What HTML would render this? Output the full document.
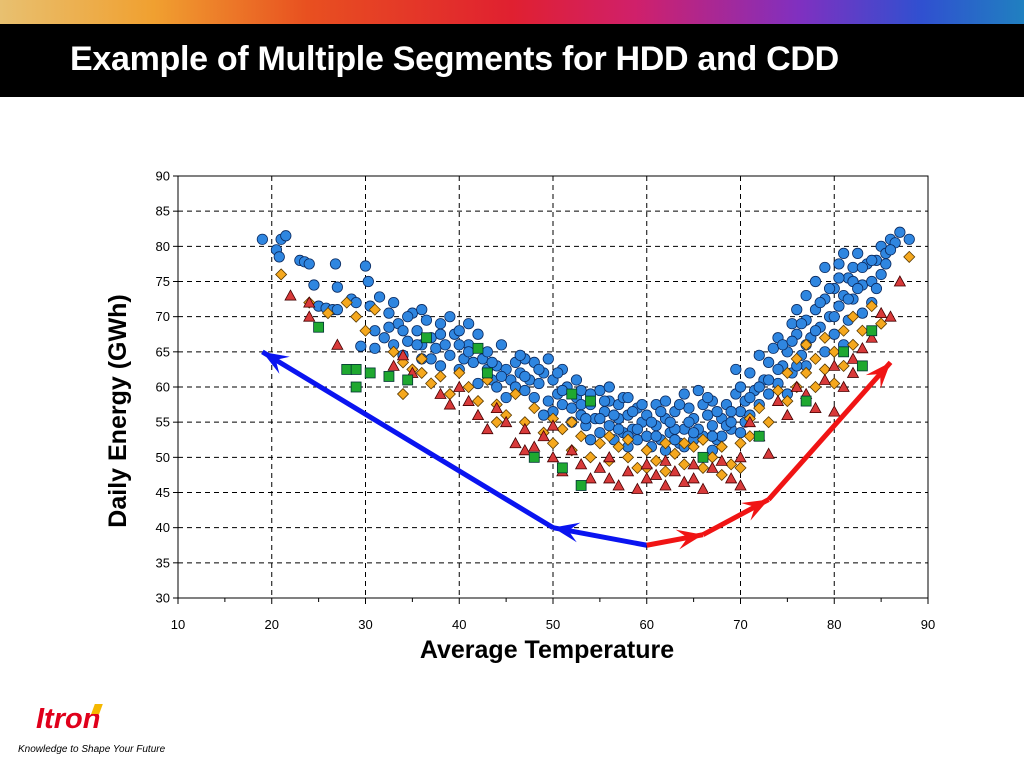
<!DOCTYPE html>
<html><head><meta charset="utf-8">
<style>
body{margin:0;width:1024px;height:768px;overflow:hidden;background:#fff;font-family:"Liberation Sans",sans-serif;position:relative}
#band{position:absolute;left:0;top:0;width:1024px;height:24px;background:linear-gradient(90deg,#e8c070 0%,#f0a030 15%,#e85020 30%,#e02030 50%,#d0206a 62%,#8030c0 78%,#3050d0 90%,#2080c0 100%)}
#head{position:absolute;left:0;top:24px;width:1024px;height:73px;background:#000}
#title{position:absolute;left:70px;top:40px;color:#fff;font-weight:bold;font-size:34px;letter-spacing:-0.3px}
#logo{position:absolute;left:36px;top:703px;color:#e0001b;font-weight:bold;font-style:italic;font-size:29px}
#tick{position:absolute;left:93px;top:704px;width:8px;height:10px;background:#f5b800;transform:skewX(-20deg)}
#tag{position:absolute;left:18px;top:744px;font-style:italic;font-size:10px;color:#000}
</style></head><body>
<div id="band"></div>
<div id="head"></div>
<div id="title">Example of Multiple Segments for HDD and CDD</div>
<div id="logo">Itron</div>
<div id="tick"></div>
<div id="tag">Knowledge to Shape Your Future</div>
<svg id="chart" width="1024" height="768" style="position:absolute;left:0;top:0"></svg>
<script>
const xTicks=[10,20,30,40,50,60,70,80,90];
const yTicks=[30,35,40,45,50,55,60,65,70,75,80,85,90];
const blue=[[19,81],[20.5,79.5],[21,81],[21.5,81.5],[20.8,78.5],[23,78],[23.5,77.8],[24,77.5],[24.5,74.5],[25,71.5],[25.8,71.2],[26.5,71],[26.8,77.5],[27,74.2],[28.5,72.5],[29.5,65.8],[30,77.2],[30.3,75],[30.5,71.5],[31,68],[31.5,72.8],[32,67],[32.5,70.5],[33,72],[33.5,69],[34,68],[34.5,66.5],[35,70.5],[35.5,68],[36,66],[36.5,69.5],[37,67],[37.5,65.5],[38,69],[38.5,66],[39,64.5],[39.5,67.5],[40,68],[40.5,64],[41,66],[41.5,63.5],[42,67.5],[42.5,64],[43,65],[43,62.5],[43.5,61],[44,63],[44.5,66],[45,62.5],[45.5,61],[46,63.5],[46,60],[46.5,62],[47,59.5],[47.5,61],[48,63.5],[48,58.5],[48.5,60.5],[49,62],[49.5,64],[49.5,58],[50,61],[50,56.5],[50.5,59],[51,57.5],[51.5,60],[52,55],[52,57],[52.5,58.5],[53,56],[53.5,54.5],[54,57.5],[54.5,55.5],[55,53.5],[55,59.5],[55.5,56.5],[56,54.5],[56,58],[56.5,52.5],[57,55.5],[57.5,53.5],[58,56],[58,51.5],[58.5,54],[59,52.5],[59.5,55],[60,53],[60,56],[60.5,51.5],[61,54.5],[61.5,52.5],[62,55.5],[62,51],[62.5,53.5],[63,56.5],[63.5,52],[64,54],[64.5,57],[65,52.5],[65,55.5],[65.5,59.5],[66,53],[66.5,56],[67,54.5],[67,58],[67.5,52.5],[68,55.5],[68.5,57.5],[69,54],[69.5,59],[69.5,62.5],[70,56.5],[70,60],[70.5,58],[71,62],[71.5,59.5],[72,57.5],[72,64.5],[72.5,61],[73,63.5],[73.5,65.5],[74,60.5],[74,67],[74.5,63],[75,65],[75.5,69],[75.5,62],[76,67.5],[76,71],[76.5,64.5],[77,69.5],[77,73],[77.5,67],[78,71],[78,75],[78.5,68.5],[79,72.5],[79,77],[79.5,70],[80,74],[80,67.5],[80.5,77.5],[80.5,71.5],[81,73],[81,79],[81.5,75.5],[81.5,69.5],[82,77],[82,72.5],[82.5,79],[83,74.5],[83,70.5],[83.5,77.5],[84,75],[84,72],[84.5,78],[85,76],[85,80],[85.5,79],[86,81],[86.5,80.5],[87,82],[88,81],[44,60],[47,64],[51,62.5],[53,59.5],[57,57.5],[59,57],[61,57.5],[63,54],[66,57.5],[68,53],[71,56],[73,59],[40,62.5],[38,63],[36,64],[34,64.5],[42,60.5],[45,58.5],[49,56],[54,52.5],[58,53],[64,51.5],[67,51],[70,53.5],[75,59],[77,63],[79,65],[81,66],[39,70],[41,69],[33,66],[31,65.5],[29,72],[27,71],
[41,65],[43.5,63.5],[44.5,61.5],[46.5,64.5],[47,61.5],[48.5,62.5],[50.5,62],[51,59.5],[52.5,61],[53,57.5],[54,59],[55.5,58],[56.5,56],[57.5,58.5],[58.5,56.5],[59.5,57.5],[60.5,55],[61.5,56.5],[62.5,55],[63.5,57.5],[64.5,55],[65.5,54],[66.5,58.5],[67.5,56.5],[68.5,54.5],[69,56.5],[70.5,55],[71,58.5],[72,60],[73,61],[74,62.5],[74.5,66],[75.5,66.5],[76,63],[76.5,69],[77,66],[78,68],[78.5,72],[79.5,74],[80,70],[80.5,75.5],[81.5,72.5],[82,75],[82.5,74],[83,77],[84,78],[84.5,74],[85.5,77.5],[86,79.5],[40,66],[38,67.5],[37,64],[35.5,66],[34.5,70],[36,71],[32.5,68.5],[53.5,55.5],[55,55.5],[57,54],[59,54],[61,53],[63,52.5],[65,53.5],[67,53],[69,55],[62,58],[64,59],[58,58.5],[56,60]];
const orange=[[21,76],[24,72],[26,70.5],[28,72],[29,70],[30,68],[31,71],[33,65],[34,63.5],[35,62.5],[36,64],[37,60.5],[38,61.5],[39,59],[40,62],[41,60],[42,58],[43,61],[44,57.5],[45,56],[46,59],[47,55],[48,57],[49,53.5],[50,55.5],[50,52],[51,54],[52,51],[53,53],[54,50],[55,52],[56,49.5],[57,51.5],[58,50],[58,52.5],[59,48.5],[60,51],[61,49.5],[62,52],[62,48],[63,50.5],[64,49],[65,51.5],[66,48.5],[66,52.5],[67,50],[68,51.5],[69,49],[70,52],[71,53],[71,55.5],[72,57],[73,55],[74,59.5],[75,58],[75,62],[76,60],[76,64],[77,62],[77,66],[78,60],[78,64],[79,67],[79,62.5],[80,65],[80,60.5],[81,68],[81,63],[82,66],[82,70],[83,68],[84,71.5],[85,69],[88,78.5],[34,59],[36,62],[44,55],[52,55],[56,53],[60,48.5],[64,52],[68,47.5],[70,48.5]];
const red=[[22,73],[24,72],[24,70],[27,66],[33,63],[34,64.5],[35,62],[38,59],[39,57.5],[40,60],[41,58],[42,56],[43,54],[44,57],[45,55],[46,52],[47,54],[48,51.5],[49,53],[50,50],[50,54.5],[51,48],[52,51],[53,49],[54,47],[55,48.5],[56,50],[56,47],[57,46],[58,48],[59,45.5],[60,49],[60,47],[61,47.5],[62,46],[62,49.5],[63,48],[64,46.5],[65,49],[65,47],[66,45.5],[67,48.5],[68,49.5],[69,47],[70,46],[70,50],[71,55],[72,53],[73,50.5],[74,58],[75,56],[76,60],[77,59],[78,57],[79,61],[80,63],[80,56.5],[81,60],[82,64],[82,62],[83,65.5],[84,67],[85,70.5],[86,70],[87,75],[47,51]];
const green=[[25,68.5],[28,62.5],[29,62.5],[29,60],[30.5,62],[32.5,61.5],[34.5,61],[36.5,67],[42,65.5],[43,62],[48,50],[51,48.5],[52,59],[53,46],[54,58],[66,50],[72,53],[77,58],[81,65],[83,63],[84,68]];
const blueArrow=[[60,37.5],[50,40],[19,65]];
const redArrow=[[60,37.5],[66,39],[73,44],[86,63.5]];

const X0=178,X1=928,Y0=598,Y1=176;
const xs=v=>X0+(v-10)/80*(X1-X0);
const ys=v=>Y0-(v-30)/60*(Y0-Y1);
const svg=document.getElementById('chart');
const NS='http://www.w3.org/2000/svg';
function mk(t,a){const e=document.createElementNS(NS,t);for(const k in a)e.setAttribute(k,a[k]);svg.appendChild(e);return e;}
let e;
e=mk('rect',{x:X0,y:Y1,width:X1-X0,height:Y0-Y1,fill:'#fff',stroke:'#000','stroke-width':1});


xTicks.forEach(t=>{
 if(t>10&&t<90){e=mk('line',{x1:xs(t),x2:xs(t),y1:Y1,y2:Y0,stroke:'#000','stroke-dasharray':'5,4'});
 
 }
 e=mk('text',{x:xs(t),y:Y0+31,'text-anchor':'middle','font-size':13,fill:'#000'});e.textContent=t;
 
 
 mk('line',{x1:xs(t),x2:xs(t),y1:Y0,y2:Y0+6,stroke:'#000'});
 if(t<90)mk('line',{x1:xs(t+5),x2:xs(t+5),y1:Y0,y2:Y0+4,stroke:'#000'});
});
yTicks.forEach(t=>{
 if(t>30&&t<90){e=mk('line',{x1:X0,x2:X1,y1:ys(t),y2:ys(t),stroke:'#000','stroke-dasharray':'5,4'});
 
 }
 mk('line',{x1:X0-5,x2:X0,y1:ys(t),y2:ys(t),stroke:'#000'});
 e=mk('text',{x:X0-8,y:ys(t)+4.5,'text-anchor':'end','font-size':13,fill:'#000'});e.textContent=t;
 
 
});
e=mk('text',{x:547,y:658,'text-anchor':'middle','font-size':25,'font-weight':'bold'});e.textContent='Average Temperature';


e=mk('text',{x:0,y:0,'text-anchor':'middle','font-size':25,'font-weight':'bold',transform:'translate(126,411) rotate(-90)'});e.textContent='Daily Energy (GWh)';


blue.forEach(p=>{e=mk('circle',{cx:xs(p[0]),cy:ys(p[1]),r:5.2,fill:'#2f86e0',stroke:'#0a2a60','stroke-width':0.8});
 
 });
orange.forEach(p=>{const x=xs(p[0]),y=ys(p[1]);e=mk('polygon',{points:`${x},${y-5.5} ${x+5.5},${y} ${x},${y+5.5} ${x-5.5},${y}`,fill:'#f5a81e',stroke:'#5a3a00','stroke-width':0.8});
 
 });
red.forEach(p=>{const x=xs(p[0]),y=ys(p[1]);e=mk('polygon',{points:`${x},${y-5.5} ${x+5.5},${y+4.5} ${x-5.5},${y+4.5}`,fill:'#d83a3a',stroke:'#400','stroke-width':0.8});
 
 });
green.forEach(p=>{const x=xs(p[0]),y=ys(p[1]);e=mk('rect',{x:x-5,y:y-5,width:10,height:10,fill:'#1fa830',stroke:'#033','stroke-width':0.8});
 
 });
function arrow(pts,col,name){
 for(let i=1;i<pts.length;i++){
  const ax=xs(pts[i-1][0]),ay=ys(pts[i-1][1]),bx=xs(pts[i][0]),by=ys(pts[i][1]);
  e=mk('line',{x1:ax,y1:ay,x2:bx,y2:by,stroke:col,'stroke-width':5});
  
  
  const a=Math.atan2(by-ay,bx-ax),L=26,W=10;
  const cx=bx-L*Math.cos(a),cy=by-L*Math.sin(a),mx=bx-L*0.6*Math.cos(a),my=by-L*0.6*Math.sin(a);
  e=mk('polygon',{points:`${bx},${by} ${cx-W*Math.sin(a)},${cy+W*Math.cos(a)} ${mx},${my} ${cx+W*Math.sin(a)},${cy-W*Math.cos(a)}`,fill:col});
  
  
 }
}
arrow(blueArrow,'#0a14f0','blue-arrow');
arrow(redArrow,'#f01414','red-arrow');
</script>
</body></html>
